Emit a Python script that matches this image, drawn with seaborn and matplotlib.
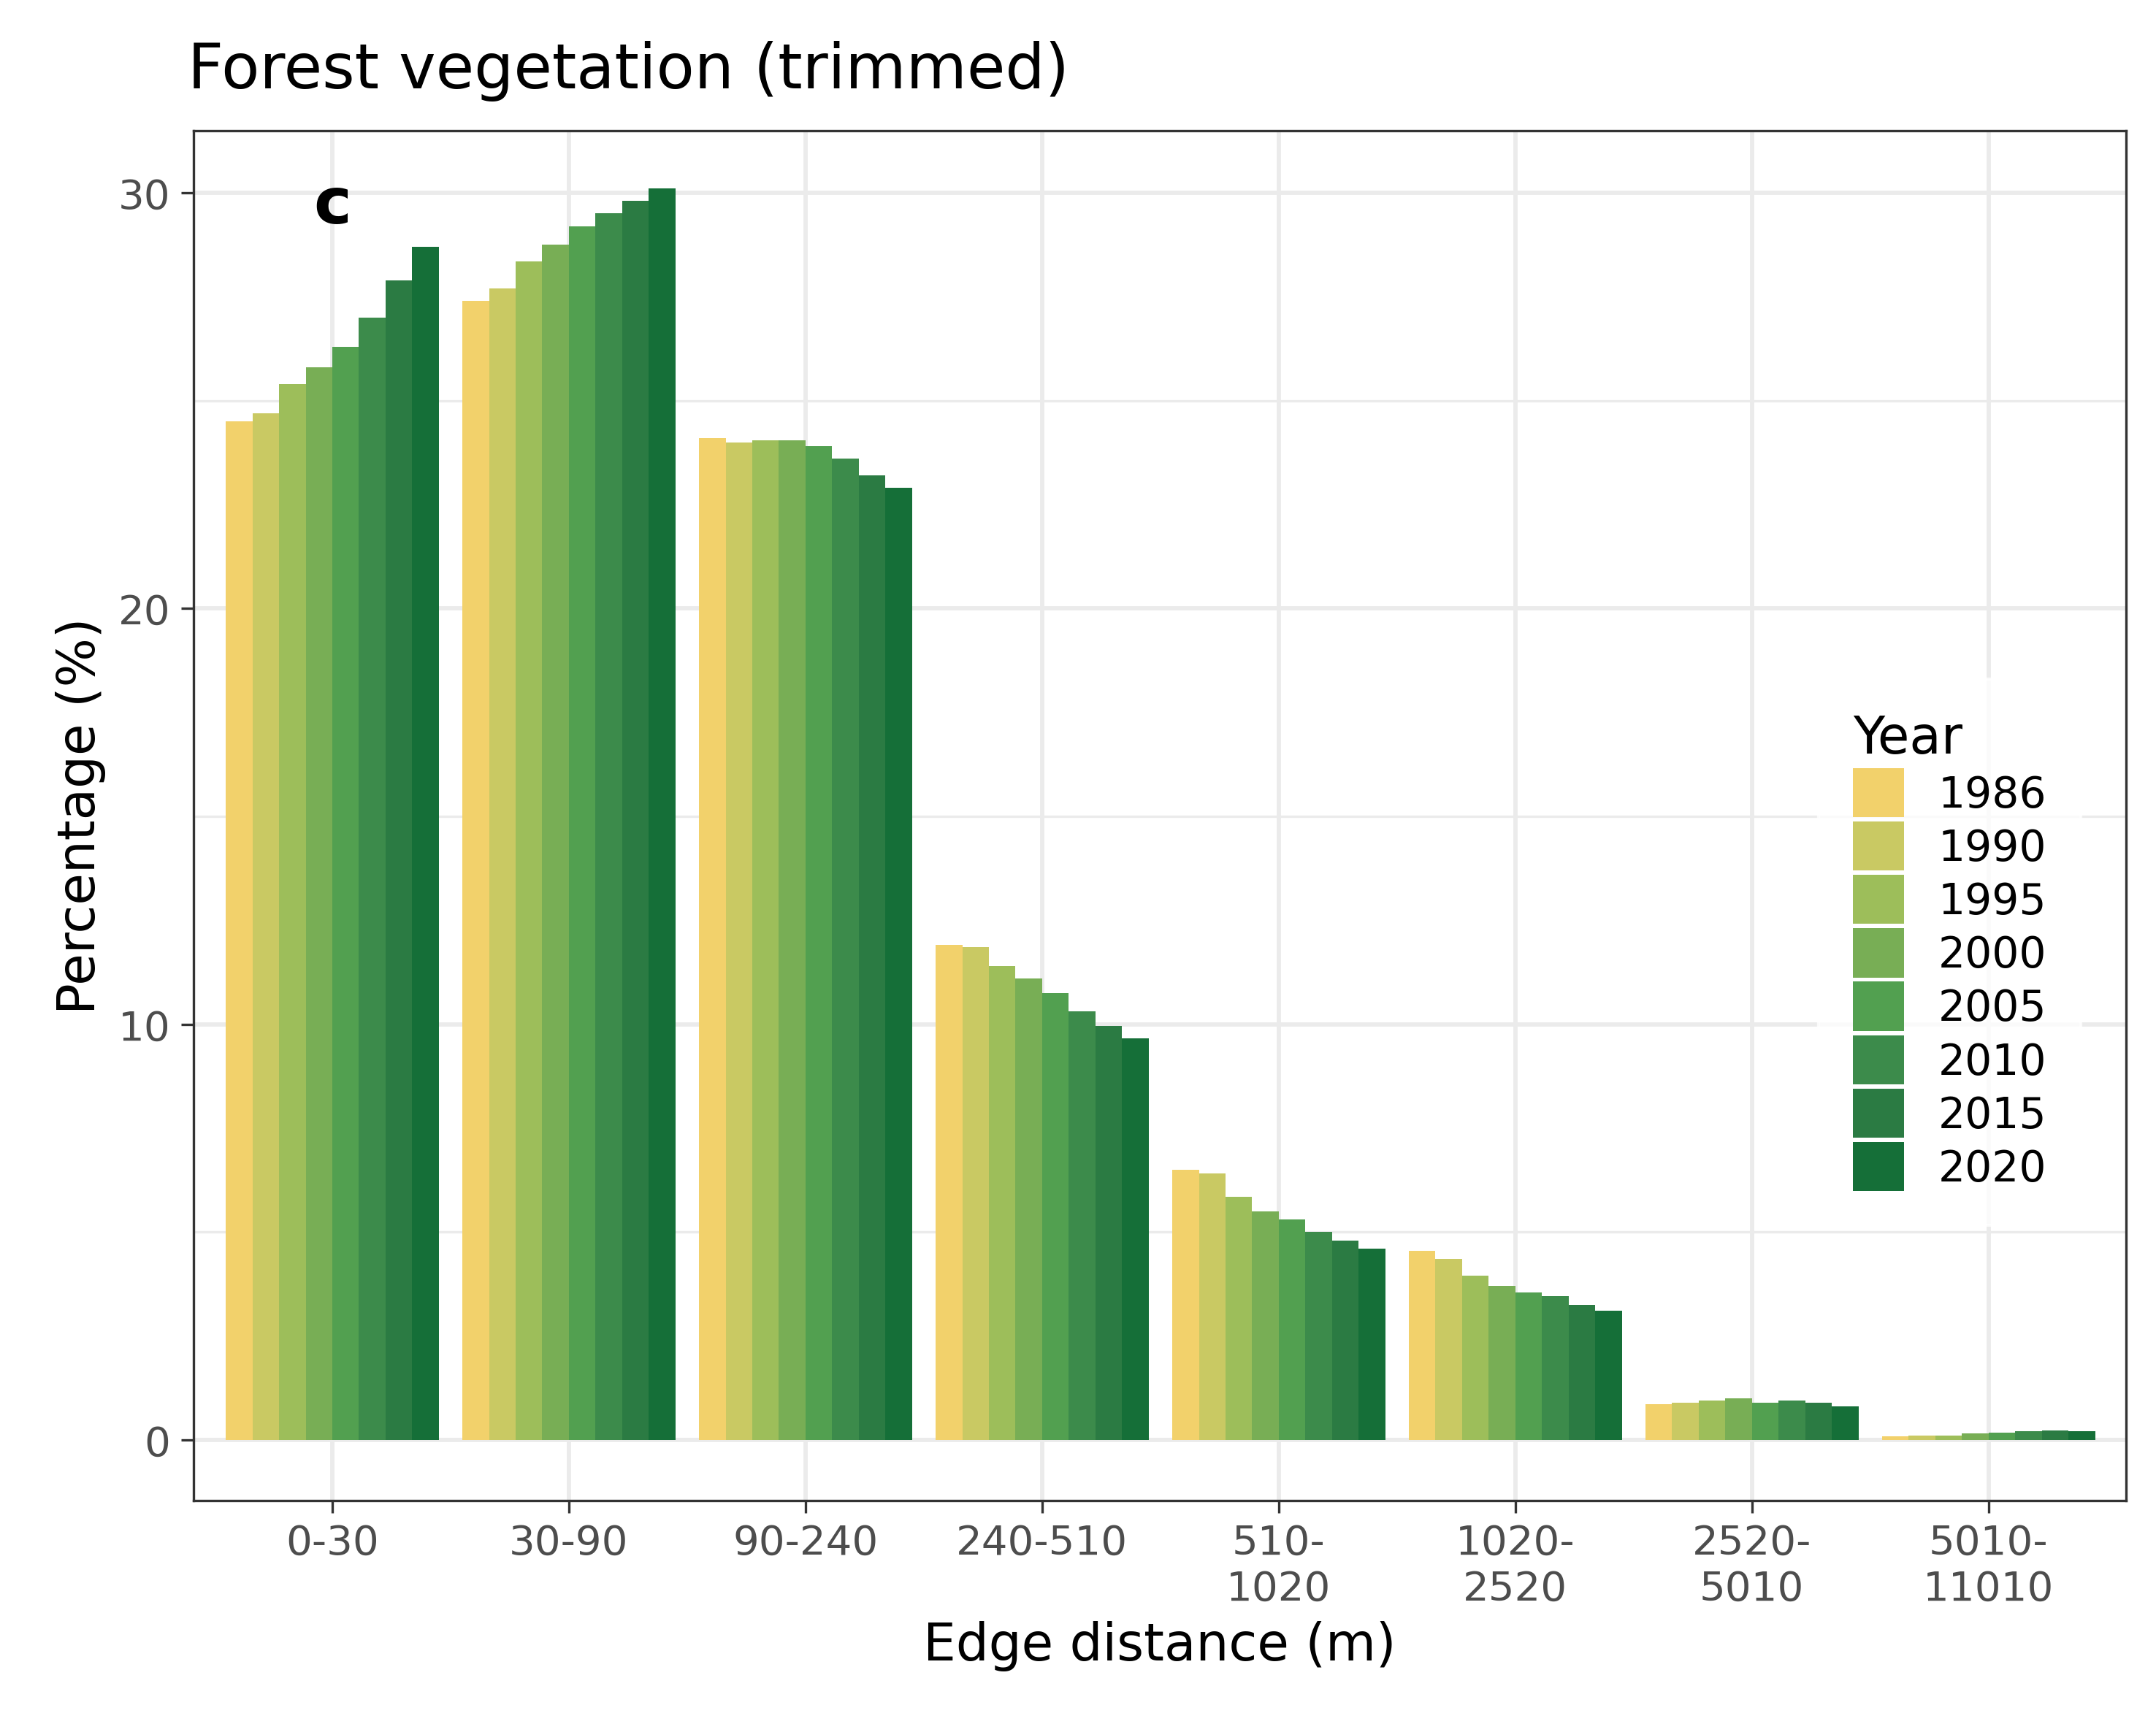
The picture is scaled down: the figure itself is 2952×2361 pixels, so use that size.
import numpy as np
import pandas as pd
import matplotlib
matplotlib.use("Agg")
import matplotlib.pyplot as plt
import seaborn as sns
from matplotlib.ticker import MultipleLocator

distances = ["0-30", "30-90", "90-240", "240-510", "510-\n1020",
             "1020-\n2520", "2520-\n5010", "5010-\n11010"]
years = ["1986", "1990", "1995", "2000", "2005", "2010", "2015", "2020"]

# percentage per distance class (rows) and year (columns)
pct = [
    [24.5, 24.7, 25.4, 25.8, 26.3, 27.0, 27.9, 28.7],
    [27.4, 27.7, 28.35, 28.75, 29.2, 29.5, 29.8, 30.1],
    [24.1, 24.0, 24.05, 24.05, 23.9, 23.6, 23.2, 22.9],
    [11.9, 11.85, 11.4, 11.1, 10.75, 10.3, 9.95, 9.65],
    [6.5, 6.4, 5.85, 5.5, 5.3, 5.0, 4.8, 4.6],
    [4.55, 4.35, 3.95, 3.7, 3.55, 3.45, 3.25, 3.1],
    [0.85, 0.9, 0.95, 1.0, 0.9, 0.95, 0.9, 0.8],
    [0.08, 0.1, 0.1, 0.15, 0.18, 0.2, 0.22, 0.2],
]
colors = ["#F2D16B", "#C9C963", "#9DBE5A", "#78AE55", "#52A050",
          "#3C8B4B", "#2B7B43", "#156F38"]

rows = []
for d, vals in zip(distances, pct):
    for y, v in zip(years, vals):
        rows.append({"dist": d, "year": y, "pct": v})
df = pd.DataFrame(rows)

sns.set_theme(style="whitegrid")
plt.rcParams['font.family'] = ['DejaVu Sans']
plt.rcParams['text.color'] = 'black'
plt.rcParams['axes.labelcolor'] = 'black'

fig = plt.figure(figsize=(9.84, 7.873), dpi=300)
ax = fig.add_axes([0.0897, 0.1296, 0.8963, 0.7944])

sns.barplot(data=df, x="dist", y="pct", hue="year", palette=colors,
            width=0.9, saturation=1, gap=0, ax=ax, edgecolor="none")

ax.set_facecolor("white")
for s in ax.spines.values():
    s.set_visible(True)
    s.set_color("#333333")
    s.set_linewidth(0.8)
ax.set_xlim(-0.587, 7.58)
ax.set_ylim(-1.46, 31.5)
ax.yaxis.set_major_locator(MultipleLocator(10))
ax.yaxis.set_minor_locator(MultipleLocator(5))
ax.grid(True, which="major", color="#EBEBEB", linewidth=1.4)
ax.grid(True, which="minor", color="#EBEBEB", linewidth=0.8)
ax.xaxis.grid(True, color="#EBEBEB", linewidth=1.4)
ax.set_axisbelow(True)
ax.tick_params(axis="both", which="major", length=4, width=0.8, color="#333333",
               labelsize=13.5, labelcolor="#4D4D4D", bottom=True, left=True)
ax.tick_params(axis="y", which="minor", length=0)

ax.set_xlabel("Edge distance (m)", fontsize=17, color="black")
ax.set_ylabel("Percentage (%)", fontsize=17, color="black")
ax.set_title("Forest vegetation (trimmed)", fontsize=20.5, loc="left", x=-0.003,
             pad=14, color="black")
ax.text(0, 29.7, "c", fontsize=21, fontweight="bold", ha="center", va="center")

leg = ax.legend(title="Year", loc="upper left", bbox_to_anchor=(0.83, 0.615),
                fontsize=14, title_fontsize=17, frameon=True, fancybox=False,
                handlelength=1.2, handleheight=1.4, labelspacing=0.1,
                borderpad=0.8)
leg.get_frame().set_facecolor("white")
leg.get_frame().set_edgecolor("white")
leg._legend_box.align = "left"

fig.savefig("out.png", dpi=300)
